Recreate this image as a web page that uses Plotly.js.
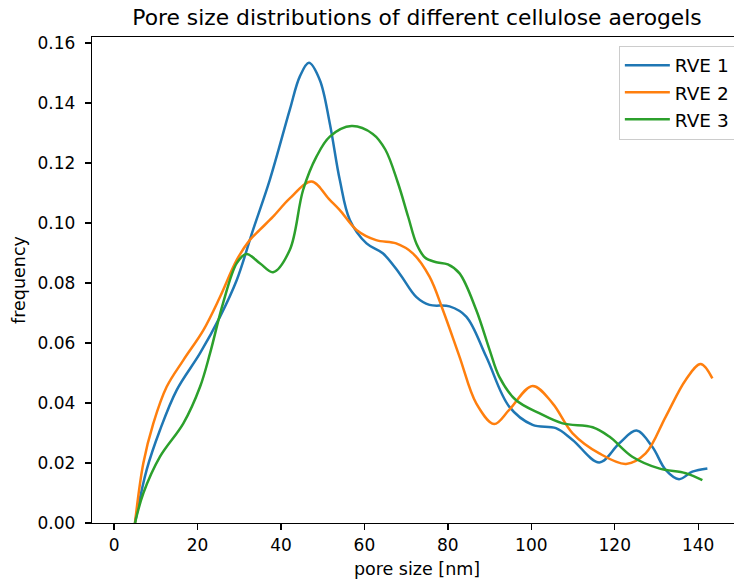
<!DOCTYPE html>
<html>
<head>
<meta charset="utf-8">
<script src="https://cdn.plot.ly/plotly-3.0.1.min.js"></script>
<style>
html, body { margin: 0; padding: 0; overflow: hidden; background: #fff; }
#chart { width: 743px; height: 583px; }
</style>
</head>
<body>
<div id="chart"></div>
<script>
// RVE 1
const rve1X = [5, 7.8, 11, 15, 20.6, 25.4, 29.4, 33.3, 37.3, 42.1, 44.5, 46.7, 49.3, 51.7, 54.1, 56.5, 60.5, 64.4, 68.4, 72.4, 75.6, 80.4, 84.4, 89.2, 94.7, 100.3, 105.9, 109.9, 116.3, 121.1, 125.2, 129, 132.2, 135.4, 138.6, 142.2];
const rve1Y = [0, 0.0177, 0.031, 0.0443, 0.0566, 0.0688, 0.081, 0.0977, 0.1143, 0.1377, 0.1488, 0.1534, 0.1477, 0.1332, 0.1143, 0.101, 0.0932, 0.0899, 0.0832, 0.0754, 0.0727, 0.0722, 0.0688, 0.0554, 0.0388, 0.0327, 0.0316, 0.0277, 0.0202, 0.0266, 0.0308, 0.0254, 0.0177, 0.0146, 0.0171, 0.0182];
// RVE 2
const rve2X = [5, 7.0, 9.4, 12.6, 16.6, 21.4, 25.4, 29.4, 32.5, 34.9, 38.1, 42.1, 47.3, 51.7, 54.1, 58.1, 62.8, 67.6, 71.6, 75.6, 78.8, 82.8, 86.8, 91.1, 94.7, 100.3, 105.1, 109.9, 116.3, 122.7, 127.4, 132.2, 137, 140.6, 143.4];
const rve2Y = [0, 0.0199, 0.0332, 0.0454, 0.0543, 0.0643, 0.0754, 0.0877, 0.0943, 0.0977, 0.1021, 0.1082, 0.1138, 0.1077, 0.1043, 0.0977, 0.0943, 0.0932, 0.0899, 0.0821, 0.071, 0.0554, 0.0399, 0.033, 0.0377, 0.0457, 0.0399, 0.0299, 0.0232, 0.0197, 0.0232, 0.0354, 0.0477, 0.053, 0.0482];
// RVE 3
const rve3X = [5, 7, 11, 16.6, 20.6, 23, 26.1, 29.4, 31.7, 35, 38.1, 42.1, 45.3, 48.5, 51.7, 56.9, 62, 65, 68, 70.5, 72.5, 74.5, 77, 80, 82.8, 86.8, 90, 92.3, 96.3, 101.9, 107.5, 114.7, 118.7, 124.2, 130.6, 137, 141];
const rve3Y = [0, 0.0099, 0.0221, 0.0332, 0.0454, 0.0566, 0.0732, 0.0866, 0.0897, 0.0865, 0.0836, 0.091, 0.111, 0.1221, 0.1288, 0.1323, 0.1297, 0.1245, 0.1135, 0.102, 0.093, 0.0885, 0.087, 0.0862, 0.0832, 0.071, 0.0577, 0.0488, 0.041, 0.0366, 0.0332, 0.0319, 0.0288, 0.0221, 0.0182, 0.0166, 0.0143];

const seriesNames = ['RVE 1', 'RVE 2', 'RVE 3'];
const xTicks = [0, 20, 40, 60, 80, 100, 120, 140];
const yTicks = [0, 0.02, 0.04, 0.06, 0.08, 0.10, 0.12, 0.14, 0.16];

const colors = ['#1f77b4', '#ff7f0e', '#2ca02c'];
const xs = [rve1X, rve2X, rve3X];
const ys = [rve1Y, rve2Y, rve3Y];

const traces = xs.map((x, i) => ({
  type: 'scatter',
  mode: 'lines',
  x: x,
  y: ys[i],
  name: seriesNames[i],
  legendgroup: 'g' + i,
  line: { color: colors[i], width: 2.5, shape: 'spline', smoothing: 1 }
}));

const font = { family: 'DejaVu Sans', size: 17, color: '#000' };

const layout = {
  width: 743,
  height: 583,
  autosize: false,
  margin: { l: 92, r: 1, t: 37, b: 60 },
  paper_bgcolor: '#fff',
  plot_bgcolor: '#fff',
  font: font,
  showlegend: true,
  title: {
    text: 'Pore size distributions of different cellulose aerogels',
    font: { family: 'DejaVu Sans', size: 21.8, color: '#000' },
    xref: 'paper', x: 0.5, xanchor: 'center',
    yref: 'container', y: 1 - 17 / 583, yanchor: 'middle'
  },
  xaxis: {
    range: [-5.3, 150.5],
    tickmode: 'array',
    tickvals: xTicks,
    ticktext: xTicks.map(String),
    ticks: 'outside', ticklen: 6, tickwidth: 1.3, tickcolor: '#000',
    showgrid: false, zeroline: false,
    showline: true, linecolor: '#000', linewidth: 1.3, mirror: true,
    tickfont: font,
    title: { text: 'pore size [nm]', font: { family: 'DejaVu Sans', size: 17.5, color: '#000' }, standoff: 9 }
  },
  yaxis: {
    range: [0, 0.162],
    tickmode: 'array',
    tickvals: yTicks,
    ticktext: yTicks.map(v => v.toFixed(2)),
    ticks: 'outside', ticklen: 6, tickwidth: 1.3, tickcolor: '#000',
    ticklabelstandoff: 6,
    showgrid: false, zeroline: false,
    showline: true, linecolor: '#000', linewidth: 1.3, mirror: true,
    tickfont: font,
    title: { text: 'frequency', font: { family: 'DejaVu Sans', size: 17.5, color: '#000' }, standoff: 7 }
  },
  legend: {
    x: 0.989, xanchor: 'right',
    y: 0.982, yanchor: 'top',
    bgcolor: 'rgba(255,255,255,0.85)',
    bordercolor: '#cccccc', borderwidth: 1,
    font: { family: 'DejaVu Sans', size: 18.5, color: '#000' },
    itemwidth: 45,
    traceorder: 'grouped',
    tracegroupgap: 0
  }
};

Plotly.newPlot('chart', traces, layout, { displayModeBar: false, staticPlot: true });
</script>
</body>
</html>
